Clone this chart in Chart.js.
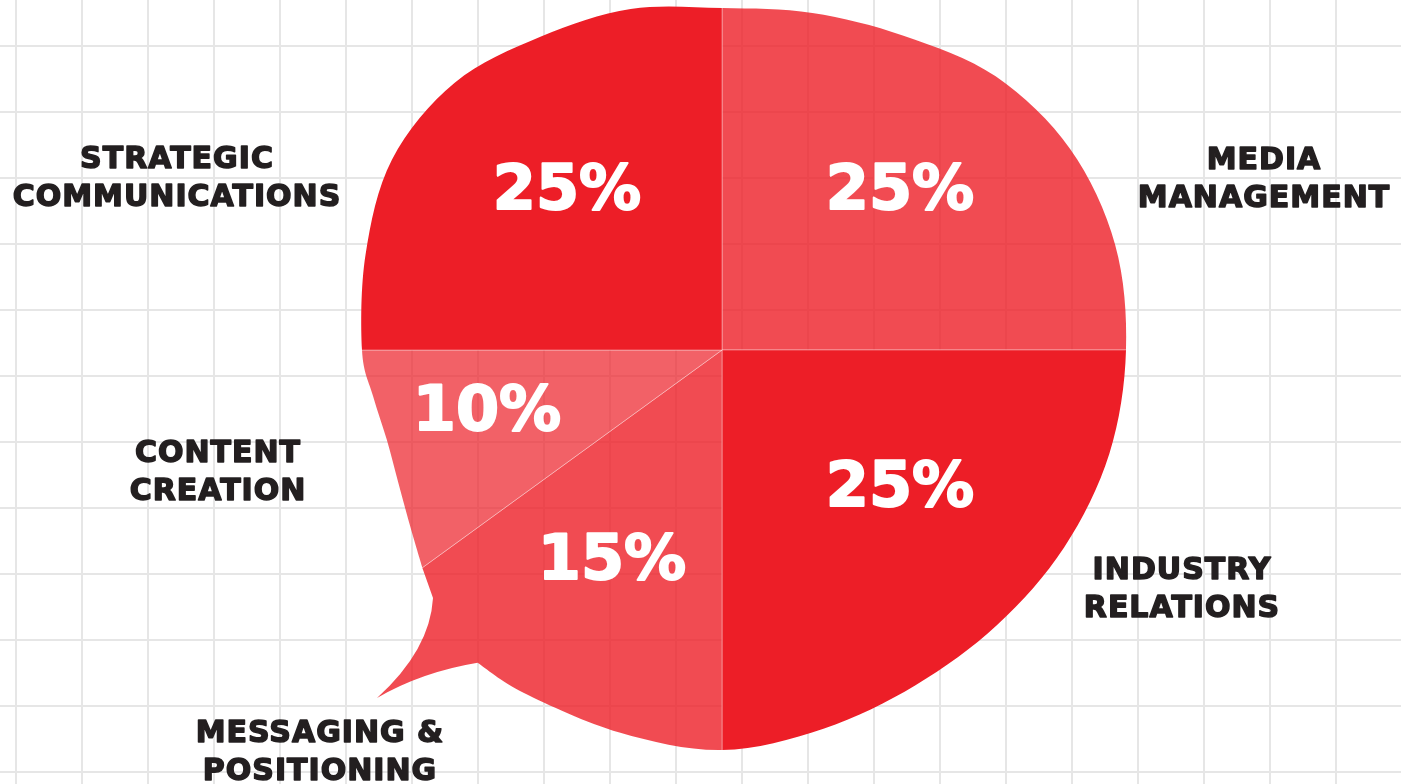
<!DOCTYPE html>
<html>
<head>
<meta charset="utf-8">
<script src="https://cdn.jsdelivr.net/npm/chart.js@4/dist/chart.umd.min.js"></script>
<style>
  html, body { margin: 0; padding: 0; background-color: #fff; }
  body {
    width: 1401px; height: 784px; overflow: hidden;
    background-image:
      linear-gradient(to right, #e6e6e6 2px, transparent 2px),
      linear-gradient(to bottom, #e6e6e6 2px, transparent 2px);
    background-size: 66px 66px;
    background-position: 15px 45px;
  }
  #wrap { position: absolute; left: 0; top: 0; width: 1401px; height: 784px; }
</style>
</head>
<body>
<div id="wrap"><canvas id="myChart" width="1401" height="784"></canvas></div>
<script>
const categories = ['MEDIA\nMANAGEMENT', 'INDUSTRY\nRELATIONS', 'MESSAGING &\nPOSITIONING', 'CONTENT\nCREATION', 'STRATEGIC\nCOMMUNICATIONS'];
const shares = [25, 25, 15, 10, 25];
const pctLabels = shares.map(v => v + '%');

const sliceColors = ['rgba(237,30,39,0.8)', '#ed1e27', 'rgba(237,30,39,0.8)', 'rgba(237,30,39,0.7)', '#ed1e27'];

// where the text sits, relative to the pie centre
const pctOffset = [[178, -163], [178, 134], [-110, 207], [-235, 58], [-155, -163]];
const nameOffset = [[542, -173], [460, 237], [-402, 400], [-504, 120], [-545, -174]];

// speech bubble outline in polar form (degrees, px from the pie centre)
const edgeAngle = [143.7, 150, 157.5, 165, 172.5, 180, 195, 210, 225, 240, 255, 270, 285, 300, 315, 330, 345, 360,
  375, 390, 405, 420, 435, 450, 465, 480, 488];
const edgeRadius = [371, 359, 350, 347, 352, 360, 369, 381, 378, 362, 353, 342, 349, 363, 387, 402, 407, 404,
  401, 395, 389, 387, 392, 400, 396, 396, 397];

const smoothThrough = (ctx, pts) => {
  for (let i = 0; i < pts.length - 1; i++) {
    const p0 = pts[i - 1] || pts[i];
    const p1 = pts[i];
    const p2 = pts[i + 1];
    const p3 = pts[i + 2] || p2;
    ctx.bezierCurveTo(
      p1[0] + (p2[0] - p0[0]) / 6, p1[1] + (p2[1] - p0[1]) / 6,
      p2[0] - (p3[0] - p1[0]) / 6, p2[1] - (p3[1] - p1[1]) / 6,
      p2[0], p2[1]
    );
  }
};

const bubbleClip = {
  id: 'bubbleClip',
  beforeDatasetsDraw(chart) {
    const arc = chart.getDatasetMeta(0).data[0];
    const cx = arc.x, cy = arc.y;
    const ctx = chart.ctx;
    const pts = edgeAngle.map((a, i) => {
      const t = a * Math.PI / 180;
      return [cx + edgeRadius[i] * Math.cos(t), cy + edgeRadius[i] * Math.sin(t)];
    });
    ctx.save();
    ctx.beginPath();
    ctx.moveTo(pts[0][0], pts[0][1]);
    smoothThrough(ctx, pts);
    // the tail
    ctx.quadraticCurveTo(cx - 300, cy + 322, cx - 345, cy + 348);
    ctx.quadraticCurveTo(cx - 292, cy + 300, cx - 289, cy + 248);
    ctx.closePath();
    ctx.clip();
  },
  afterDatasetsDraw(chart) {
    chart.ctx.restore();
  }
};

const sliceText = {
  id: 'sliceText',
  afterDraw(chart) {
    const ctx = chart.ctx;
    const arc = chart.getDatasetMeta(0).data[0];
    const cx = arc.x, cy = arc.y;
    ctx.save();
    ctx.textAlign = 'center';
    ctx.textBaseline = 'alphabetic';
    ctx.lineJoin = 'round';

    ctx.fillStyle = '#ffffff';
    ctx.strokeStyle = '#ffffff';
    ctx.lineWidth = 2;
    ctx.font = 'bold 62px "DejaVu Sans"';
    pctLabels.forEach((t, i) => {
      const x = cx + pctOffset[i][0], y = cy + pctOffset[i][1] + 22;
      ctx.fillText(t, x, y);
      ctx.strokeText(t, x, y);
    });

    ctx.fillStyle = '#231f20';
    ctx.strokeStyle = '#231f20';
    ctx.lineWidth = 1.5;
    ctx.font = 'bold 30px "DejaVu Sans"';
    ctx.letterSpacing = '1px';
    categories.forEach((name, i) => {
      const lines = name.split('\n');
      lines.forEach((line, j) => {
        const x = cx + nameOffset[i][0];
        const y = cy + nameOffset[i][1] + (j - (lines.length - 1) / 2) * 38 + 11;
        ctx.fillText(line, x, y);
        ctx.strokeText(line, x, y);
      });
    });
    ctx.restore();
  }
};

new Chart(document.getElementById('myChart').getContext('2d'), {
  type: 'pie',
  data: {
    labels: categories,
    datasets: [{
      data: shares,
      backgroundColor: sliceColors,
      borderColor: 'rgba(255,255,255,0.35)',
      borderWidth: 1,
      radius: 500,
      clip: false
    }]
  },
  options: {
    responsive: false,
    animation: false,
    layout: { padding: { left: 43, right: 0, top: 0, bottom: 84 } },
    plugins: {
      legend: { display: false },
      tooltip: { enabled: false }
    }
  },
  plugins: [bubbleClip, sliceText]
});
</script>
</body>
</html>
